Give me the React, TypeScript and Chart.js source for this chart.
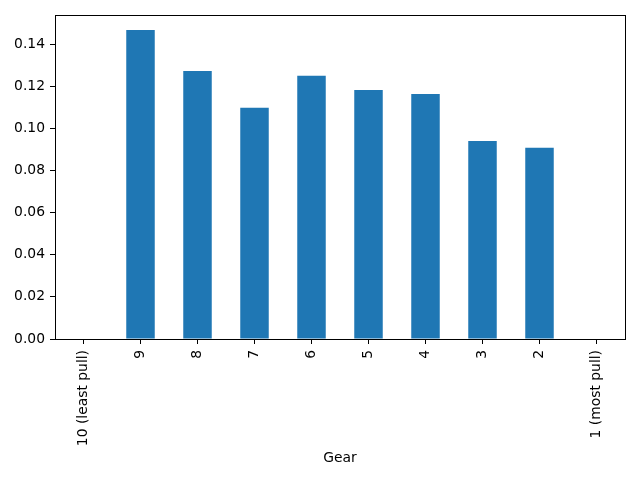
import React, { useEffect, useRef } from "react";
import { Chart, registerables } from "chart.js";

Chart.register(...registerables);

const categories: string[] = ["10 (least pull)", "9", "8", "7", "6", "5", "4", "3", "2", "1 (most pull)"];
const values: (number | null)[] = [null, 0.1468, 0.1273, 0.1098, 0.125, 0.1183, 0.1164, 0.0941, 0.0908, null];
const yTicks: number[] = [0, 0.02, 0.04, 0.06, 0.08, 0.1, 0.12, 0.14];
const yMax = 0.1539;
const xTitle = "Gear";

const FONT = "'DejaVu Sans', sans-serif";

const framePlugin = {
  id: "frame",
  afterDraw(chart: any) {
    const { ctx, chartArea } = chart;
    ctx.save();
    ctx.strokeStyle = "#000";
    ctx.lineWidth = 1;
    ctx.strokeRect(
      Math.round(chartArea.left) + 0.5,
      Math.round(chartArea.top) + 0.5,
      Math.round(chartArea.right - chartArea.left),
      Math.round(chartArea.bottom - chartArea.top)
    );
    ctx.restore();
  },
};

export default function App() {
  const ref = useRef<HTMLCanvasElement | null>(null);
  useEffect(() => {
    if (!ref.current) return;
    const chart = new Chart(ref.current, {
      type: "bar",
      data: {
        labels: categories,
        datasets: [
          {
            data: values as any,
            backgroundColor: "#1f77b4",
            borderWidth: 0,
            categoryPercentage: 1,
            barPercentage: 0.5,
          },
        ],
      },
      options: {
        animation: false,
        responsive: false,
        maintainAspectRatio: false,
        layout: { padding: { top: 15, right: 15, left: 0, bottom: 0 } },
        plugins: { legend: { display: false }, tooltip: { enabled: false } },
        scales: {
          x: {
            offset: true,
            border: { display: false },
            grid: { display: true, drawOnChartArea: false, drawTicks: true, tickLength: 5, color: "#000", offset: false },
            ticks: {
              color: "#000",
              font: { family: FONT, size: 13.89 },
              minRotation: 90,
              maxRotation: 90,
              autoSkip: false,
              padding: 6,
            },
            title: {
              display: true,
              text: xTitle,
              color: "#000",
              font: { family: FONT, size: 13.89 },
              padding: { top: 4, bottom: 13 },
            },
            afterFit(scale: any) {
              scale.height = 141;
            },
          },
          y: {
            min: 0,
            max: yMax,
            border: { display: false },
            grid: { display: true, drawOnChartArea: false, drawTicks: true, tickLength: 5, color: "#000" },
            afterBuildTicks(scale: any) {
              scale.ticks = yTicks.map((v) => ({ value: v }));
            },
            ticks: {
              color: "#000",
              font: { family: FONT, size: 13.89 },
              padding: 5,
              callback: (v: any) => Number(v).toFixed(2),
            },
            afterFit(scale: any) {
              scale.width = 55;
            },
          },
        },
      },
      plugins: [framePlugin],
    });
    return () => chart.destroy();
  }, []);
  return (
    <div style={{ position: "fixed", left: 0, top: 0, width: 640, height: 480, background: "#fff" }}>
      <canvas ref={ref} width={640} height={480} style={{ width: 640, height: 480 }} />
    </div>
  );
}
